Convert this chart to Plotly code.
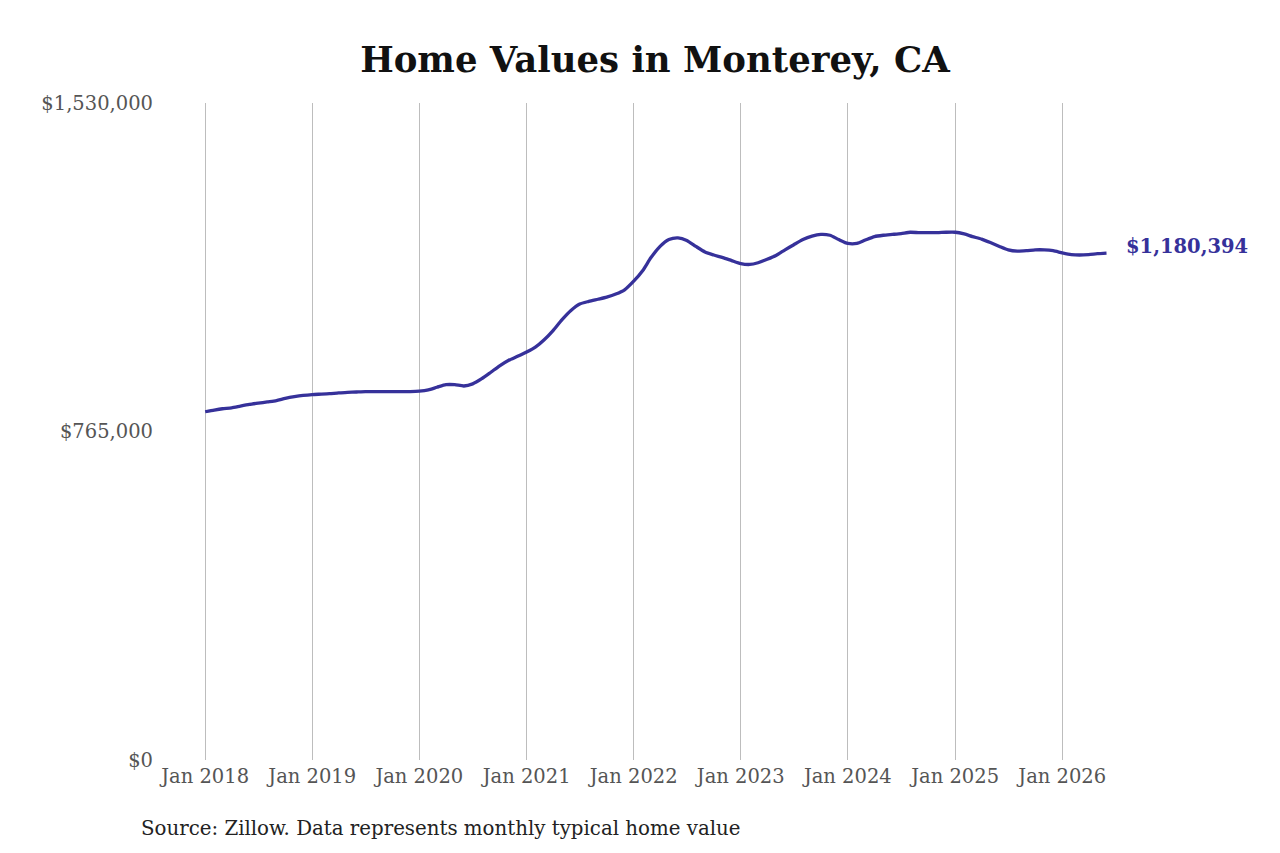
import pandas as pd
import plotly.graph_objects as go

# monthly typical home value, Jan 2018 .. Jun 2026
months = pd.date_range("2018-01-01", "2026-06-01", freq="MS")

vals_2018 = [811000, 815000, 818000, 820000, 824000, 828000, 831000, 834000, 837000, 842000, 846000, 849000]
vals_2019 = [851000, 852000, 853000, 855000, 856000, 857000, 858000, 858000, 858000, 858000, 858000, 858000]
vals_2020 = [859000, 862000, 868000, 874000, 874000, 871000, 876000, 888000, 903000, 918000, 931000, 940000]
vals_2021 = [950000, 962000, 978000, 1000000, 1025000, 1047000, 1062000, 1068000, 1073000, 1078000, 1085000, 1095000]
vals_2022 = [1115000, 1140000, 1170000, 1196000, 1212000, 1216000, 1210000, 1196000, 1183000, 1176000, 1170000, 1163000]
vals_2023 = [1156000, 1154000, 1158000, 1166000, 1175000, 1188000, 1200000, 1212000, 1220000, 1224000, 1222000, 1212000]
vals_2024 = [1203000, 1203000, 1211000, 1219000, 1222000, 1224000, 1226000, 1229000, 1228000, 1228000, 1228000, 1229000]
vals_2025 = [1229000, 1225000, 1219000, 1213000, 1205000, 1196000, 1188000, 1185000, 1186000, 1188000, 1188000, 1186000]
vals_2026 = [1181000, 1177000, 1176000, 1177000, 1179000, 1180394]

values = (vals_2018 + vals_2019 + vals_2020 + vals_2021 + vals_2022
          + vals_2023 + vals_2024 + vals_2025 + vals_2026)

tick_dates = pd.date_range("2018-01-01", "2026-01-01", freq="YS")
tick_text = [d.strftime("Jan %Y") for d in tick_dates]
y_ticks = [0, 765000, 1530000]
y_text = ["$0", "$765,000", "$1,530,000"]

line_color = "#36319a"
serif = "DejaVu Serif"

# plot box in figure pixels (page has an 8px body margin)
L, R, T, B = 152, 168, 95, 101
W, H = 1280, 853
plot_w, plot_h = W - L - R, H - T - B

fig = go.Figure()
fig.add_trace(go.Scatter(
    x=months, y=values, mode="lines",
    line=dict(color=line_color, width=3.3, shape="spline", smoothing=0.6),
    hoverinfo="skip", showlegend=False,
))

# end label
fig.add_annotation(
    x=months[-1], y=values[-1], xref="x", yref="y",
    text="<b>${:,.0f}</b>".format(values[-1]),
    showarrow=False, xanchor="left", xshift=17, yshift=7,
    font=dict(family=serif, size=19.5, color=line_color),
)

fig.add_annotation(
    x=(131 - L) / plot_w, y=(H - B - 820) / plot_h, xref="paper", yref="paper",
    text="Source: Zillow. Data represents monthly typical home value",
    showarrow=False, xanchor="left", yanchor="middle",
    font=dict(family=serif, size=19.8, color="#222222"),
)

fig.update_layout(
    width=W, height=H,
    margin=dict(l=L, r=R, t=T, b=B),
    paper_bgcolor="white", plot_bgcolor="white",
    title=dict(
        text="<b>Home Values in Monterey, CA</b>",
        x=647 / W, xanchor="center", y=1 - 52 / H, yanchor="middle",
        font=dict(family=serif, size=35.5, color="#111111"),
    ),
    xaxis=dict(
        range=["2017-07-31", "2026-07-17"],
        tickvals=tick_dates, ticktext=tick_text,
        showgrid=True, gridcolor="#bdbdbd", gridwidth=1,
        showline=False, zeroline=False, ticks="",
        ticklabelstandoff=2,
        tickfont=dict(family=serif, size=19.5, color="#555555"),
    ),
    yaxis=dict(
        range=[0, 1530000],
        tickvals=y_ticks, ticktext=y_text,
        showgrid=False, showline=False, zeroline=False, ticks="",
        ticklabelstandoff=6,
        tickfont=dict(family=serif, size=19.5, color="#555555"),
    ),
)

fig.write_html("out.html")
